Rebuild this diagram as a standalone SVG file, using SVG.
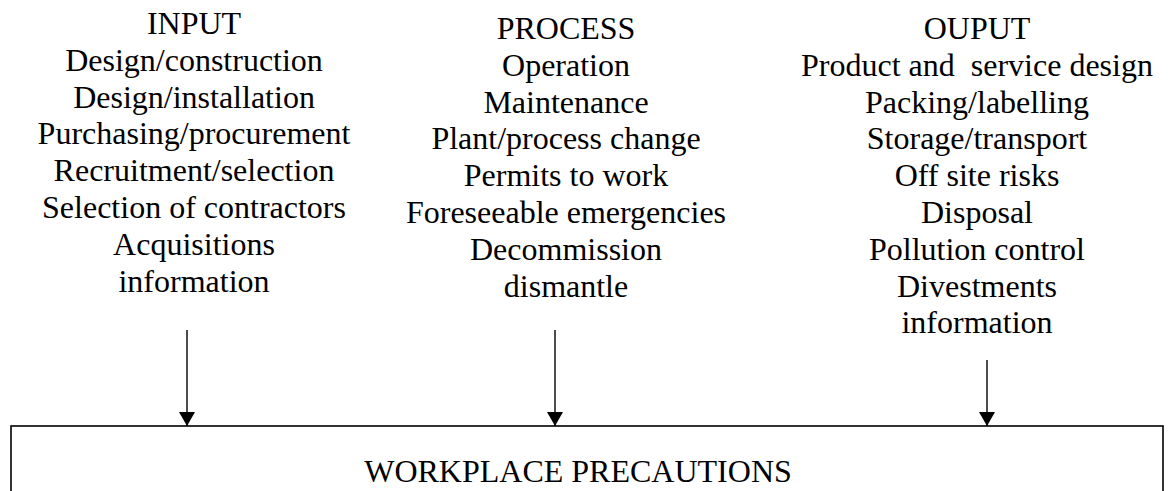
<svg xmlns="http://www.w3.org/2000/svg" width="1168" height="491" viewBox="0 0 1168 491">
<style>
.t text{font-family:'Liberation Serif','Times New Roman',Times,serif;font-size:32px;fill:#000;text-anchor:middle}
.ln{stroke:#000;stroke-width:1.4;fill:none}
.bx{stroke:#000;stroke-width:1.6;fill:#fff}
</style>
<defs>
<marker id="ah" viewBox="0 0 14 16" refX="14" refY="8" markerWidth="14" markerHeight="16" markerUnits="userSpaceOnUse" orient="auto">
<path d="M0,0 L14,8 L0,16 Z" fill="#000"/>
</marker>
</defs>
<rect width="1168" height="491" fill="#fff"/>
<g id="input" class="t" font-family="Liberation Serif, serif">
<text x="194" y="34">INPUT</text>
<text x="194" y="70.8">Design/construction</text>
<text x="194" y="107.6">Design/installation</text>
<text x="194" y="144.4">Purchasing/procurement</text>
<text x="194" y="181.2">Recruitment/selection</text>
<text x="194" y="218">Selection of contractors</text>
<text x="194" y="254.8">Acquisitions</text>
<text x="194" y="291.6">information</text>
</g>
<g id="process" class="t" font-family="Liberation Serif, serif">
<text x="566" y="39">PROCESS</text>
<text x="566" y="75.8">Operation</text>
<text x="566" y="112.6">Maintenance</text>
<text x="566" y="149.4">Plant/process change</text>
<text x="566" y="186.2">Permits to work</text>
<text x="566" y="223">Foreseeable emergencies</text>
<text x="566" y="259.8">Decommission</text>
<text x="566" y="296.6">dismantle</text>
</g>
<g id="output" class="t" font-family="Liberation Serif, serif">
<text x="977" y="39">OUPUT</text>
<text x="977" y="75.8" xml:space="preserve">Product and  service design</text>
<text x="977" y="112.6">Packing/labelling</text>
<text x="977" y="149.4">Storage/transport</text>
<text x="977" y="186.2">Off site risks</text>
<text x="977" y="223">Disposal</text>
<text x="977" y="259.8">Pollution control</text>
<text x="977" y="296.6">Divestments</text>
<text x="977" y="333.4">information</text>
</g>
<g id="precautions" class="t" font-family="Liberation Serif, serif">
<rect class="bx" x="11" y="426" width="1152" height="100"/>
<text x="578" y="481.5">WORKPLACE PRECAUTIONS</text>
</g>
<g id="connectors">
<line class="ln" x1="187" y1="330" x2="187" y2="426" marker-end="url(#ah)"/>
<line class="ln" x1="555" y1="330" x2="555" y2="426" marker-end="url(#ah)"/>
<line class="ln" x1="987" y1="360" x2="987" y2="426" marker-end="url(#ah)"/>
</g>
</svg>
